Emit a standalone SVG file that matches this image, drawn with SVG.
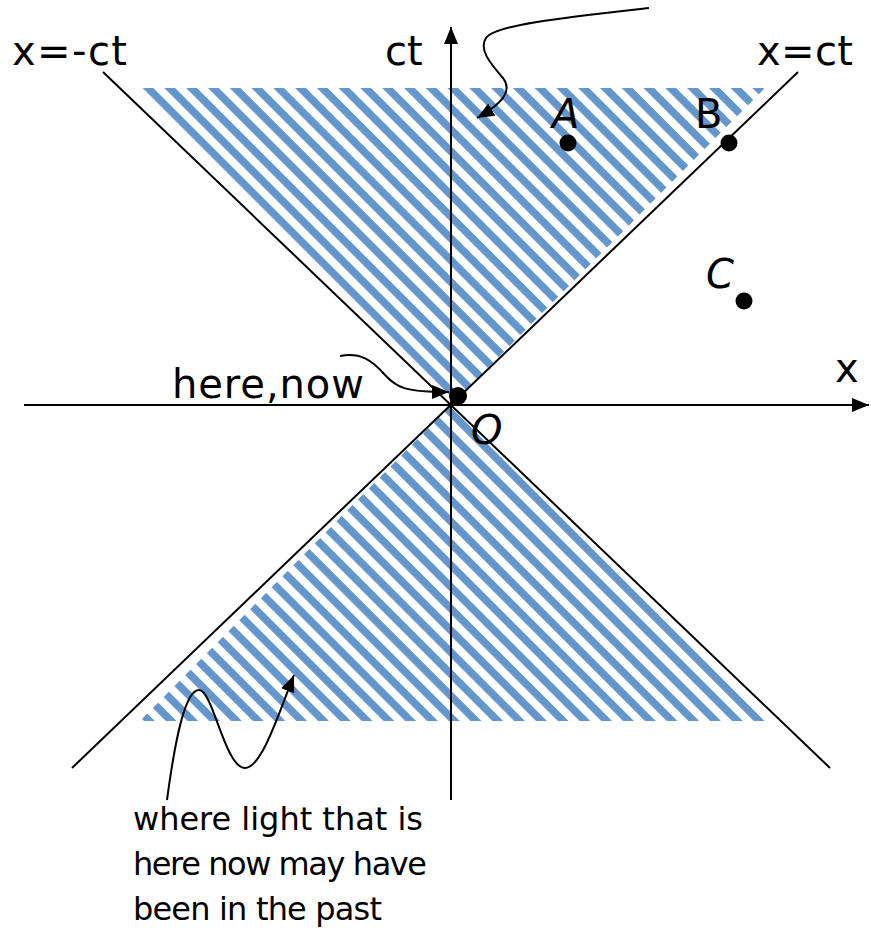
<svg xmlns="http://www.w3.org/2000/svg" width="871" height="931" viewBox="0 0 871 931">
<style>
.t{font-family:"DejaVu Sans","Liberation Sans",sans-serif;fill:#000}
.lbl{font-size:40px}
.note{font-size:32px}
.it{font-style:italic}
.ln{stroke:#000;stroke-width:2;fill:none}
.dot{fill:#000}
</style>
<defs>
<pattern id="hatch" patternUnits="userSpaceOnUse" width="15.4" height="15.4" patternTransform="rotate(45)">
<rect width="15.4" height="7.6" fill="#6396CC"/>
</pattern>
<marker id="ah" markerUnits="userSpaceOnUse" markerWidth="18" markerHeight="14" refX="17" refY="7" orient="auto">
<path d="M0,0 L17,7 L0,14 z" fill="#000"/>
</marker>
</defs>
<rect width="871" height="931" fill="#fff"/>
<g id="future-cone"><polygon points="138,88 765,88 451,405" fill="url(#hatch)"/></g>
<g id="past-cone"><polygon points="140,721 765,721 451,405" fill="url(#hatch)"/></g>
<g id="connectors">
<line class="ln" x1="24" y1="405" x2="869" y2="405" marker-end="url(#ah)"/>
<line class="ln" x1="451" y1="800" x2="451" y2="27" marker-end="url(#ah)"/>
<line class="ln" x1="103" y1="72" x2="830" y2="768"/>
<line class="ln" x1="798" y1="72" x2="72" y2="768"/>
<path class="ln" d="M649,8 C560,18 495,25 486,38 C478,50 492,65 503,78 C512,90 505,102 477,118" marker-end="url(#ah)"/>
<path class="ln" d="M340,356 C360,352 372,360 385,375 C397,388 405,392 449,392" marker-end="url(#ah)"/>
<path class="ln" d="M167,800 C175,740 185,690 199,690 C213,690 225,768 245,768 C262,768 280,710 294,675" marker-end="url(#ah)"/>
</g>
<g id="point-O"><circle class="dot" cx="458" cy="396" r="9"/><text class="t lbl it" x="471" y="444">O</text></g>
<g id="point-A"><circle class="dot" cx="568" cy="143" r="8.5"/><text class="t lbl it" x="552" y="128">A</text></g>
<g id="point-B"><circle class="dot" cx="729" cy="143" r="8.5"/><text class="t lbl" x="695" y="128">B</text></g>
<g id="point-C"><circle class="dot" cx="744" cy="301" r="8.5"/><text class="t lbl it" x="706" y="288">C</text></g>
<g id="labels">
<text class="t lbl" x="12" y="65" textLength="115" lengthAdjust="spacing">x=-ct</text>
<text class="t lbl" x="385" y="65">ct</text>
<text class="t lbl" x="757" y="65" textLength="96" lengthAdjust="spacing">x=ct</text>
<text class="t lbl" x="835" y="382">x</text>
<text class="t lbl" x="172" y="398" textLength="192" lengthAdjust="spacing">here,now</text>
<text class="t note" x="133" y="830" textLength="290" lengthAdjust="spacing">where light that is</text>
<text class="t note" x="133" y="875" textLength="294" lengthAdjust="spacing">here now may have</text>
<text class="t note" x="133" y="920" textLength="249" lengthAdjust="spacing">been in the past</text>
</g>
</svg>
